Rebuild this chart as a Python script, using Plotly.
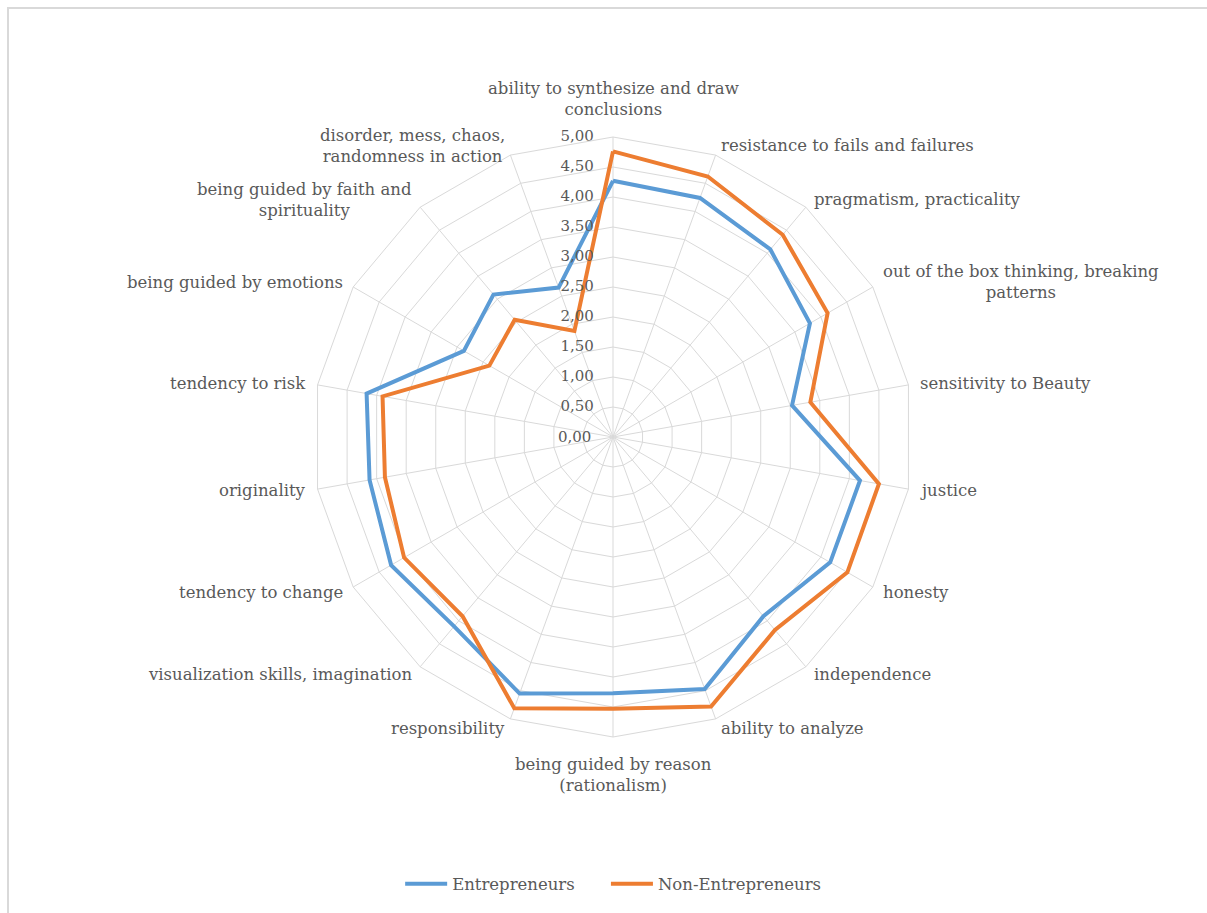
import math
import plotly.graph_objects as go

categories = [
    "ability to synthesize and draw conclusions",
    "resistance to fails and failures",
    "pragmatism, practicality",
    "out of the box thinking, breaking patterns",
    "sensitivity to Beauty",
    "justice",
    "honesty",
    "independence",
    "ability to analyze",
    "being guided by reason (rationalism)",
    "responsibility",
    "visualization skills, imagination",
    "tendency to change",
    "originality",
    "tendency to risk",
    "being guided by emotions",
    "being guided by faith and spirituality",
    "disorder, mess, chaos, randomness in action",
]

# wrapped versions of the category names for the outer labels
category_labels = [
    "ability to synthesize and draw<br>conclusions",
    "resistance to fails and failures",
    "pragmatism, practicality",
    "out of the box thinking, breaking<br>patterns",
    "sensitivity to Beauty",
    "justice",
    "honesty",
    "independence",
    "ability to analyze",
    "being guided by reason<br>(rationalism)",
    "responsibility",
    "visualization skills, imagination",
    "tendency to change",
    "originality",
    "tendency to risk",
    "being guided by emotions",
    "being guided by faith and<br>spirituality",
    "disorder, mess, chaos,<br>randomness in action",
]

entrepreneurs = [4.27, 4.24, 4.08, 3.79, 3.03, 4.18, 4.18, 3.90, 4.47, 4.27,
                 4.55, 4.12, 4.27, 4.12, 4.17, 2.87, 3.10, 2.65]
non_entrepreneurs = [4.76, 4.62, 4.40, 4.13, 3.34, 4.50, 4.51, 4.20, 4.78, 4.53,
                     4.81, 3.90, 4.02, 3.86, 3.90, 2.38, 2.55, 1.88]

radial_ticks = [0, 0.5, 1, 1.5, 2, 2.5, 3, 3.5, 4, 4.5, 5]
radial_labels = [f"{v:.2f}".replace(".", ",") for v in radial_ticks]

FONT = "DejaVu Serif"
TEXT = "#595959"
GRID = "#d9d9d9"
NB = "\u00a0"

W, H = 1207, 913
# polar area: centre and outer radius in pixels
CX, CY, R = 613, 437, 300
R_MAX = 5
LABEL_GAP = 20  # gap between the vertical spoke and its value labels

fig = go.Figure()
for name, vals, color in [
    ("Entrepreneurs" + NB * 5, entrepreneurs, "#5b9bd5"),
    ("Non-Entrepreneurs", non_entrepreneurs, "#ed7d31"),
]:
    fig.add_trace(go.Scatterpolar(
        r=vals + vals[:1],
        theta=categories + categories[:1],
        mode="lines",
        name=name,
        line=dict(color=color, width=4),
    ))

# value labels along the vertical spoke, left of it
fig.add_trace(go.Scatterpolar(
    r=radial_ticks[1:],
    theta=[categories[0]] * (len(radial_ticks) - 1),
    mode="text",
    text=[t + NB * 4 for t in radial_labels[1:]],
    textposition="middle left",
    textfont=dict(family=FONT, size=15, color=TEXT),
    showlegend=False,
    hoverinfo="skip",
    cliponaxis=False,
))

annotations = []
# the centre value label (a text point at r=0 is not drawn by scatterpolar)
annotations.append(dict(
    x=(CX - LABEL_GAP) / W, y=1 - CY / H, xref="paper", yref="paper",
    text=radial_labels[0], showarrow=False, xanchor="right", yanchor="middle",
    font=dict(family=FONT, size=15, color=TEXT),
))

# category labels placed just outside each spoke, lines centred
n = len(categories)
pad = 10
for i, lab in enumerate(category_labels):
    ang = math.radians(360 * i / n)
    s, c = math.sin(ang), math.cos(ang)
    xa = "left" if s > 0.1 else ("right" if s < -0.1 else "center")
    ya = "bottom" if c > 0.99 else ("top" if c < -0.99 else "middle")
    rr = R + pad + (6 if ya != "middle" else 0)
    px = CX + rr * s
    py = CY - rr * c
    annotations.append(dict(
        x=px / W, y=1 - py / H, xref="paper", yref="paper",
        text=lab, showarrow=False, xanchor=xa, yanchor=ya, align="center",
        font=dict(family=FONT, size=16.5, color=TEXT),
    ))

fig.update_layout(
    width=W, height=H,
    margin=dict(l=0, r=0, t=0, b=0),
    paper_bgcolor="white",
    plot_bgcolor="white",
    font=dict(family=FONT, size=16, color=TEXT),
    showlegend=True,
    legend=dict(orientation="h", x=0.508, xanchor="center", y=1 - 884 / H,
                yanchor="middle", font=dict(size=16.5, color=TEXT),
                itemwidth=42),
    polar=dict(
        domain=dict(x=[(CX - R) / W, (CX + R) / W],
                    y=[1 - (CY + R) / H, 1 - (CY - R) / H]),
        bgcolor="white",
        gridshape="linear",
        angularaxis=dict(
            rotation=90, direction="clockwise",
            gridcolor=GRID, linecolor=GRID, linewidth=1,
            showline=True, ticks="", showticklabels=False,
        ),
        radialaxis=dict(
            range=[0, R_MAX], tickvals=radial_ticks,
            showticklabels=False, angle=90,
            gridcolor=GRID, showline=False, ticks="",
        ),
    ),
    annotations=annotations,
    shapes=[dict(type="rect", xref="paper", yref="paper",
                 x0=8 / W, x1=1.02, y0=-0.02, y1=1 - 8 / H,
                 line=dict(color=GRID, width=2), fillcolor="rgba(0,0,0,0)")],
)

fig.write_html("out.html")
